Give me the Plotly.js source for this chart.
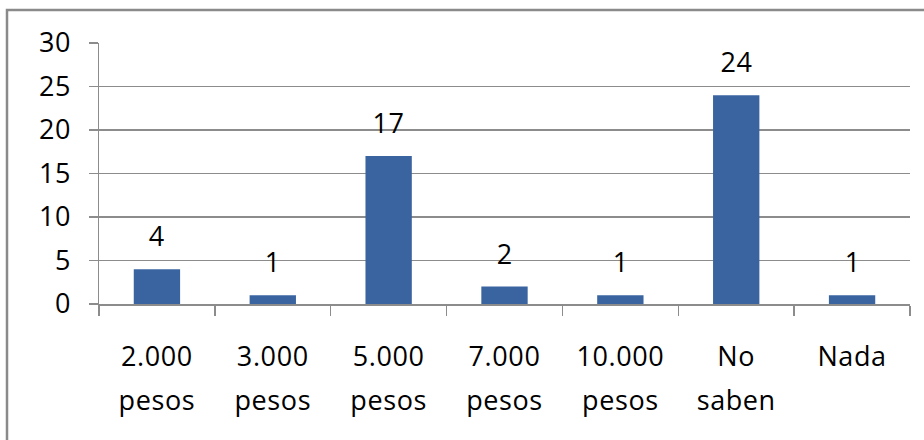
<!DOCTYPE html>
<html>
<head>
<meta charset="utf-8">
<script src="https://cdn.plot.ly/plotly-3.0.1.min.js"></script>
<style>
html,body{margin:0;padding:0;background:#fff;}
#chart{width:924px;height:440px;}
#chart text{letter-spacing:0.6px;}
</style>
</head>
<body>
<div id="chart"></div>
<script>
const categories = ["2.000 pesos", "3.000 pesos", "5.000 pesos", "7.000 pesos", "10.000 pesos", "No saben", "Nada"];
const labelLine1 = ["2.000", "3.000", "5.000", "7.000", "10.000", "No", "Nada"];
const labelLine2 = ["pesos", "pesos", "pesos", "pesos", "pesos", "saben", ""];
const values = [4, 1, 17, 2, 1, 24, 1];
const yTicks = [0, 5, 10, 15, 20, 25, 30];

const FONT = "Open Sans, DejaVu Sans, sans-serif";
const FS = 27;
const GRID = "#8c8c8c";
const L = 99, R = 14, T = 43, B = 136, W = 924, H = 440;
const pw = W - L - R, ph = H - T - B;
const px = x => (x - L) / pw;
const py = y => (H - B - y) / ph;

const trace = {
  type: "bar",
  x: categories,
  y: values,
  marker: {color: "#3a64a0"},
  width: 0.4,
  hoverinfo: "x+y"
};

// carrier trace for the second line of the category labels
const line2Trace = {
  type: "scatter",
  mode: "markers",
  x: categories.map((c, i) => i),
  y: values,
  xaxis: "x2", yaxis: "y",
  marker: {opacity: 0, size: 1},
  hoverinfo: "skip",
  showlegend: false
};

const annotations = categories.map((c, i) => ({
  x: c, y: values[i], xref: "x", yref: "y",
  text: String(values[i]), showarrow: false,
  yanchor: "bottom", yshift: 13,
  font: {family: FONT, size: FS, color: "#000"}
}));

const layout = {
  width: W, height: H,
  margin: {l: L, r: R, t: T, b: B, pad: 0},
  paper_bgcolor: "#fff", plot_bgcolor: "#fff",
  showlegend: false,
  bargap: 0.6,
  font: {family: FONT, size: FS, color: "#000"},
  xaxis: {
    type: "category",
    categoryarray: categories,
    range: [-0.5, 6.5],
    tickmode: "array",
    tickvals: categories,
    ticktext: labelLine1,
    tickson: "boundaries",
    ticks: "outside", ticklen: 10, tickwidth: 1.5, tickcolor: GRID,
    showline: true, linecolor: GRID, linewidth: 1.5,
    showgrid: false, zeroline: false,
    ticklabelstandoff: 28,
    tickfont: {family: FONT, size: FS, color: "#000"}
  },
  xaxis2: {
    overlaying: "x",
    anchor: "y",
    side: "bottom",
    type: "linear",
    range: [-0.5, 6.5],
    tickmode: "array",
    tickvals: [0, 1, 2, 3, 4, 5, 6],
    ticktext: labelLine2,
    ticks: "", showline: false, showgrid: false, zeroline: false,
    ticklabelstandoff: 78,
    tickfont: {family: FONT, size: FS, color: "#000"}
  },
  yaxis: {
    range: [0, 30],
    tickmode: "array",
    tickvals: yTicks,
    ticks: "outside", ticklen: 9, tickwidth: 1.5, tickcolor: GRID,
    showline: true, linecolor: GRID, linewidth: 1.5,
    showgrid: true, gridcolor: GRID, gridwidth: 1.5,
    zeroline: false,
    ticklabelstandoff: 12,
    tickfont: {family: FONT, size: FS, color: "#000"}
  },
  annotations: annotations,
  shapes: [{
    type: "path", xref: "paper", yref: "paper",
    path: `M ${px(7)} ${py(H)} L ${px(7)} ${py(10)} L ${px(W)} ${py(10)}`,
    line: {color: "#8a8a8a", width: 2.5}
  }]
};

Plotly.newPlot("chart", [trace, line2Trace], layout, {displayModeBar: false, staticPlot: true});
</script>
</body>
</html>
